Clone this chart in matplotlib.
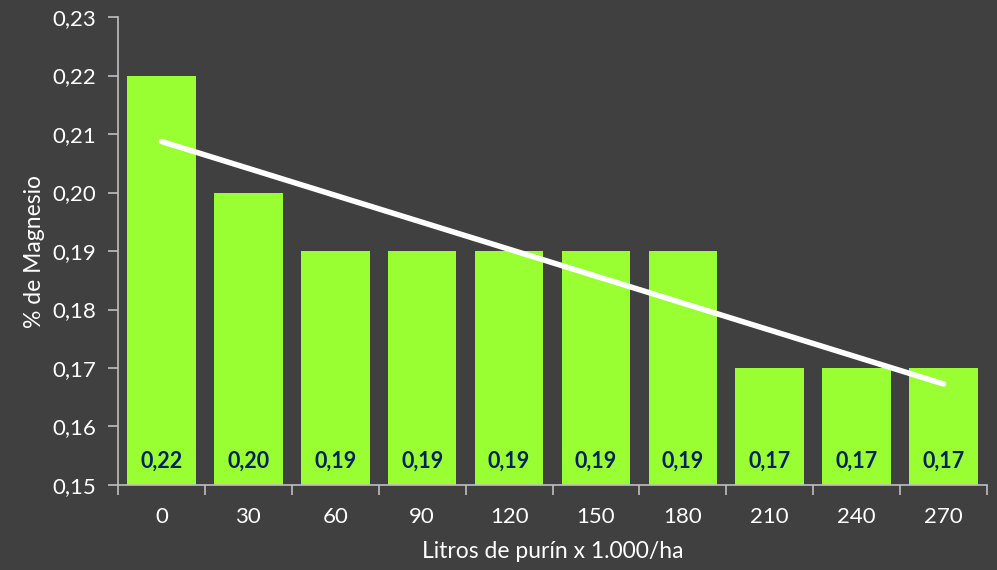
import numpy as np
import matplotlib
matplotlib.use("Agg")
import matplotlib.pyplot as plt
from matplotlib.ticker import FixedLocator, FuncFormatter

# dosis de purín (miles de litros/ha) y % de magnesio
dosis = ["0", "30", "60", "90", "120", "150", "180", "210", "240", "270"]
magnesio = [0.22, 0.20, 0.19, 0.19, 0.19, 0.19, 0.19, 0.17, 0.17, 0.17]
etiquetas = ["0,22", "0,20", "0,19", "0,19", "0,19", "0,19", "0,19", "0,17", "0,17", "0,17"]
y_ticks = [0.15, 0.16, 0.17, 0.18, 0.19, 0.20, 0.21, 0.22, 0.23]

fondo = "#404040"
verde = "#99FF33"
azul = "#002060"
gris = "#BFBFBF"

plt.rcParams["font.family"] = ["Lato", "DejaVu Sans"]

fig = plt.figure(figsize=(9.97, 5.70), dpi=100, facecolor=fondo)
ax = fig.add_axes([118 / 997, 1 - 485 / 570, (987 - 118) / 997, (485 - 17) / 570])
ax.set_facecolor(fondo)

x = np.arange(len(dosis))
ax.bar(x, magnesio, width=0.79, color=verde, bottom=0, zorder=2)

for xi, txt in zip(x, etiquetas):
    ax.annotate(txt, (xi, 0.15), xytext=(0, 17), textcoords="offset points",
                ha="center", va="center", color=azul, fontsize=15.5, fontweight="bold", zorder=4)

# línea de tendencia lineal
m, b = np.polyfit(x, magnesio, 1)
ax.plot(x, m * x + b, color="white", lw=4, solid_capstyle="round", zorder=3)

ax.set_xlim(-0.5, len(dosis) - 0.5)
ax.set_ylim(0.15, 0.23)
ax.set_yticks(y_ticks)
ax.yaxis.set_major_formatter(FuncFormatter(lambda v, p: f"{v:.2f}".replace(".", ",")))
ax.set_xticks(x)
ax.set_xticklabels(dosis)
ax.xaxis.set_minor_locator(FixedLocator(np.arange(-0.5, len(dosis), 1.0)))
ax.tick_params(axis="x", which="major", length=0, pad=16, labelsize=16, labelcolor="white")
ax.tick_params(axis="x", which="minor", length=7, width=1.2, color=gris, direction="out")
ax.tick_params(axis="y", length=7, width=1.2, color=gris, labelsize=16, labelcolor="white", pad=9)

for s in ["top", "right"]:
    ax.spines[s].set_visible(False)
for s in ["left", "bottom"]:
    ax.spines[s].set_color(gris)
    ax.spines[s].set_linewidth(1.2)

ax.set_xlabel("Litros de purín x 1.000/ha", color="white", fontsize=16.5, labelpad=10)
ax.set_ylabel("% de Magnesio", color="white", fontsize=16.5, labelpad=5)

fig.savefig("out.png", dpi=100, facecolor=fondo)
